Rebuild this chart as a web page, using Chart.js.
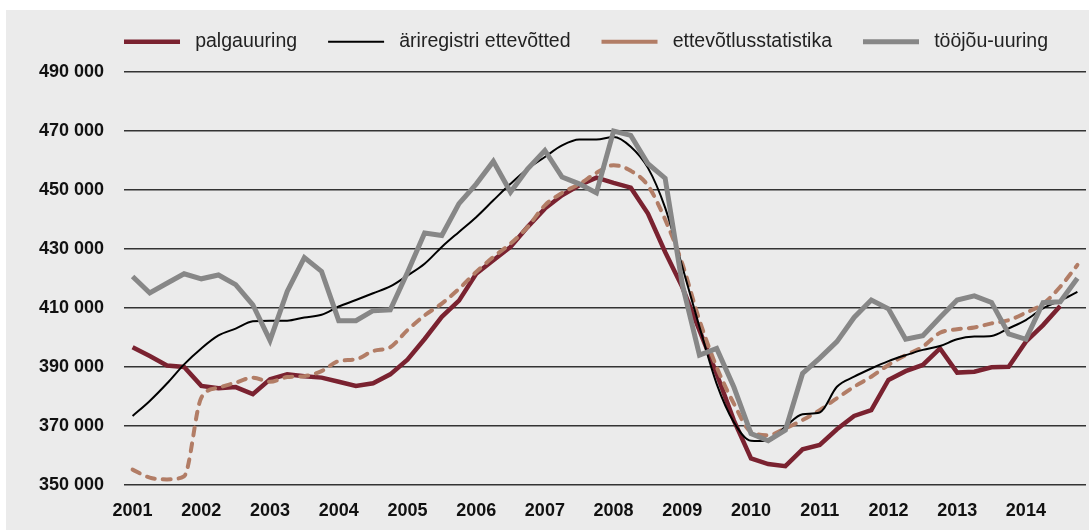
<!DOCTYPE html>
<html>
<head>
<meta charset="utf-8">
<script src="https://cdn.jsdelivr.net/npm/chart.js@4"></script>
<style>
  body { margin: 0; background: #fff; }
  #wrap { position: absolute; left: 6px; top: 10px; width: 1083px; height: 520px; background: #ebebeb; }
</style>
</head>
<body>
<div id="wrap"><canvas id="myChart" width="1083" height="520"></canvas></div>
<script>
  // quarters 2001 Q1 .. 2014 Q4
  const years = [2001, 2002, 2003, 2004, 2005, 2006, 2007, 2008, 2009, 2010, 2011, 2012, 2013, 2014]
  const quarters = []
  years.forEach(y => { for (let q = 1; q <= 4; q++) quarters.push(y + ' Q' + q) })

  const palgauuring = [
    396700, 393700, 390500, 390000, 383600, 382800, 383200, 380800,
    385800, 387500, 386900, 386400, 385000, 383600, 384500, 387500,
    392500, 399500, 407000, 412500, 421600, 426200, 430700, 437500,
    443700, 448200, 451600, 454200, 452400, 450800, 442000, 429000,
    417100, 402400, 387700, 371900, 359000, 357100, 356400, 362100,
    363600, 368900, 373400, 375400, 385600, 388600, 390700, 396300,
    388100, 388400, 389900, 390100, 398600, 404200, 410700, null
  ]
  const ariregister = [
    373400, 378500, 384400, 390900, 396300, 400700, 403000, 405500,
    405700, 405700, 406800, 407700, 410500, 412700, 415000, 417300,
    421000, 425000, 430700, 435800, 440800, 446500, 452100, 457200,
    461200, 465100, 467100, 467100, 468000, 464700, 457500, 444000,
    424000, 403600, 384300, 371300, 365000, 364900, 369800, 374000,
    374600, 383300, 386700, 389500, 392000, 394000, 395800, 397100,
    399400, 400300, 400500, 403100, 405900, 409900, 412500, 415500
  ]
  const ettevotlus = [
    355200, 352500, 351900, 353000, 379600, 383000, 384700, 386400,
    385000, 386600, 386900, 388600, 392000, 392600, 395400, 396700,
    402500, 407500, 411500, 416500, 422200, 427300, 431800, 437500,
    444800, 449000, 452000, 455800, 458400, 456500, 451500, 440000,
    425000, 405800, 390000, 377600, 368000, 366900, 369200, 372000,
    375400, 379400, 383300, 386700, 390700, 394000, 396900, 401600,
    402800, 403400, 404800, 405900, 408400, 411400, 417200, 424600
  ]
  const toojou = [
    420700, 415100, 418400, 421600, 419900, 421200, 417900, 411100,
    399000, 415600, 427100, 422400, 405700, 405700, 409100, 409400,
    422000, 435400, 434600, 445400, 452000, 459700, 449300, 457200,
    463400, 454400, 452100, 449000, 470000, 468500, 458900, 454000,
    418000, 394000, 396300, 383200, 367400, 365000, 368600, 387800,
    393000, 398600, 406800, 412700, 409700, 399400, 400600, 406800,
    412700, 414100, 411900, 401200, 399400, 411800, 412100, 420100
  ]

  const fmt = v => String(v).replace(/\B(?=(\d{3})+(?!\d))/g, ' ')

  const ctx = document.getElementById('myChart')

  // fixed legend band height + nudge legend into place
  const legendHeight = {
    id: 'legendHeight',
    beforeInit(chart) {
      const fit = chart.legend.fit
      chart.legend.fit = function () {
        fit.bind(chart.legend)()
        this.height = 62
      }
    },
    afterLayout(chart) {
      const lg = chart.legend
      lg.top -= 9
      lg.bottom -= 9
      lg.left += 40
      lg.right += 40
    }
  }

  new Chart(ctx, {
    type: 'line',
    data: {
      labels: quarters,
      datasets: [
        {
          label: 'palgauuring',
          data: palgauuring,
          borderColor: '#7a2230',
          borderWidth: 4.5,
          tension: 0,
          order: 3
        },
        {
          label: 'äriregistri ettevõtted',
          data: ariregister,
          borderColor: '#000000',
          borderWidth: 2,
          cubicInterpolationMode: 'monotone',
          order: 1
        },
        {
          label: 'ettevõtlusstatistika',
          data: ettevotlus,
          borderColor: '#b27d66',
          borderWidth: 4,
          borderDash: [8, 8],
          borderCapStyle: 'round',
          cubicInterpolationMode: 'monotone',
          order: 2
        },
        {
          label: 'tööjõu-uuring',
          data: toojou,
          borderColor: '#878787',
          borderWidth: 5,
          tension: 0,
          order: 0
        }
      ]
    },
    options: {
      responsive: false,
      devicePixelRatio: 1,
      animation: false,
      layout: { padding: { top: 0, right: 3, bottom: 0, left: 0 } },
      elements: { point: { radius: 0 } },
      plugins: {
        tooltip: { enabled: false },
        legend: {
          position: 'top',
          labels: {
            usePointStyle: true,
            pointStyle: 'line',
            pointStyleWidth: 56,
            padding: 31,
            color: '#222',
            font: { family: 'Liberation Sans', size: 19.5 },
            sort: (a, b) => a.datasetIndex - b.datasetIndex,
            generateLabels: chart => {
              const items = Chart.defaults.plugins.legend.labels.generateLabels(chart)
              items.forEach(it => { it.text = ' ' + it.text })
              return items
            }
          }
        }
      },
      scales: {
        x: {
          offset: true,
          grid: { display: false, drawTicks: false },
          border: { display: false },
          ticks: {
            autoSkip: false,
            maxRotation: 0,
            padding: 15,
            color: '#111',
            font: { family: 'Liberation Sans', size: 18, weight: 'bold' },
            callback: (v, i) => i % 4 === 0 ? quarters[i].slice(0, 4) : null
          },
          afterFit: s => { s.height = 45 }
        },
        y: {
          min: 350000,
          max: 490000,
          grid: { color: '#333', lineWidth: 1.4, drawTicks: false },
          border: { display: false },
          ticks: {
            stepSize: 20000,
            padding: 20,
            color: '#111',
            font: { family: 'Liberation Sans', size: 18, weight: 'bold' },
            callback: v => fmt(v)
          },
          afterFit: s => { s.width = 118 }
        }
      }
    },
    plugins: [legendHeight]
  })
</script>
</body>
</html>
